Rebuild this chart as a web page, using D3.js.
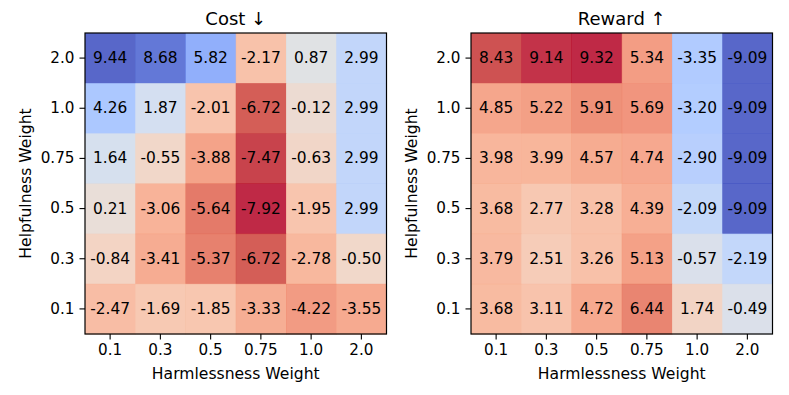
<!DOCTYPE html>
<html>
<head>
<meta charset="utf-8">
<script src="https://cdn.jsdelivr.net/npm/d3@7"></script>
<style>
    body { margin: 0; background: #fff; }
    text { font-family: 'DejaVu Sans', sans-serif; fill: #000; }
</style>
</head>
<body>
<script>
// axis categories
const harmlessness = ['0.1', '0.3', '0.5', '0.75', '1.0', '2.0'];
const helpfulness = ['2.0', '1.0', '0.75', '0.5', '0.3', '0.1']; // top to bottom

// cost values, rows follow helpfulness order
const costValues = [
    [9.44, 8.68, 5.82, -2.17, 0.87, 2.99],
    [4.26, 1.87, -2.01, -6.72, -0.12, 2.99],
    [1.64, -0.55, -3.88, -7.47, -0.63, 2.99],
    [0.21, -3.06, -5.64, -7.92, -1.95, 2.99],
    [-0.84, -3.41, -5.37, -6.72, -2.78, -0.50],
    [-2.47, -1.69, -1.85, -3.33, -4.22, -3.55]
];
// reward values
const rewardValues = [
    [8.43, 9.14, 9.32, 5.34, -3.35, -9.09],
    [4.85, 5.22, 5.91, 5.69, -3.20, -9.09],
    [3.98, 3.99, 4.57, 4.74, -2.90, -9.09],
    [3.68, 2.77, 3.28, 4.39, -2.09, -9.09],
    [3.79, 2.51, 3.26, 5.13, -0.57, -2.19],
    [3.68, 3.11, 4.72, 6.44, 1.74, -0.49]
];

// matplotlib coolwarm (Moreland) control colours
const coolwarm = [
    [59,76,192],[68,90,204],[77,104,215],[87,117,225],[98,130,234],[108,142,241],
    [119,154,247],[130,165,251],[141,176,254],[152,185,255],[163,194,255],[174,201,253],
    [184,208,249],[194,213,244],[204,217,238],[213,219,230],[221,221,221],[229,216,209],
    [236,211,197],[241,204,185],[245,196,173],[247,187,160],[247,177,148],[247,166,135],
    [244,154,123],[241,141,111],[236,127,99],[229,112,88],[222,96,77],[213,80,66],
    [203,62,56],[192,40,47],[180,4,38]
];
const cmap = d3.scaleLinear()
    .domain(coolwarm.map((d, i) => i / (coolwarm.length - 1)))
    .range(coolwarm.map((c) => d3.rgb(c[0], c[1], c[2])))
    .interpolate(d3.interpolateRgb)
    .clamp(true);

const W = 789, H = 395;
const svg = d3.select('body').append('svg')
    .attr('width', W)
    .attr('height', H);

function drawHeatmap(left, title, values, reversed) {
    const dims = { left: left, top: 33, width: 301.5, height: 301 };
    const root = svg.append('g').attr('transform', `translate(${dims.left},${dims.top})`);

    const x = d3.scaleBand().domain(harmlessness).range([0, dims.width]);
    const y = d3.scaleBand().domain(helpfulness).range([0, dims.height]);

    const flat = [];
    values.forEach((row, i) => row.forEach((v, j) => flat.push({ r: helpfulness[i], c: harmlessness[j], v: v })));
    const ext = d3.extent(flat, (d) => d.v);
    const norm = d3.scaleLinear().domain(reversed ? [ext[1], ext[0]] : ext).range([0, 1]);

    //cells
    root.append('g').selectAll('rect').data(flat).enter().append('rect')
        .attr('x', (d) => x(d.c))
        .attr('y', (d) => y(d.r))
        .attr('width', x.bandwidth() + 0.5)
        .attr('height', y.bandwidth() + 0.5)
        .attr('fill', (d) => cmap(norm(d.v)))
        .attr('fill-opacity', 0.85);

    //annotations
    root.append('g').selectAll('text').data(flat).enter().append('text')
        .attr('x', (d) => x(d.c) + x.bandwidth() / 2)
        .attr('y', (d) => y(d.r) + y.bandwidth() / 2)
        .attr('text-anchor', 'middle')
        .attr('dominant-baseline', 'central')
        .style('font-size', '15.4px')
        .text((d) => d.v.toFixed(2));

    //frame
    root.append('rect')
        .attr('width', dims.width)
        .attr('height', dims.height)
        .attr('fill', 'none')
        .attr('stroke', '#000')
        .attr('stroke-width', 1.2);

    //axes
    const xaxis = d3.axisBottom(x).tickSize(5.5).tickPadding(5);
    const yaxis = d3.axisLeft(y).tickSize(5.5).tickPadding(5);
    const gx = root.append('g').attr('transform', `translate(0,${dims.height})`).call(xaxis);
    const gy = root.append('g').call(yaxis);
    [gx, gy].forEach((g) => {
        g.select('.domain').remove();
        g.selectAll('line').attr('stroke', '#000').attr('stroke-width', 1.1);
        g.selectAll('text').style('font-size', '15.2px').style('font-family', "'DejaVu Sans', sans-serif");
    });

    //title and axis labels
    root.append('text')
        .attr('x', dims.width / 2)
        .attr('y', -8)
        .attr('text-anchor', 'middle')
        .style('font-size', '18px')
        .text(title);
    root.append('text')
        .attr('x', dims.width / 2)
        .attr('y', 45)
        .attr('transform', `translate(0,${dims.height})`)
        .attr('text-anchor', 'middle')
        .style('font-size', '15.6px')
        .text('Harmlessness Weight');
    root.append('text')
        .attr('transform', `translate(-54,${dims.height / 2}) rotate(-90)`)
        .attr('text-anchor', 'middle')
        .style('font-size', '15.6px')
        .text('Helpfulness Weight');
}

drawHeatmap(85, 'Cost \u2193', costValues, true);
drawHeatmap(471, 'Reward \u2191', rewardValues, false);
</script>
</body>
</html>
